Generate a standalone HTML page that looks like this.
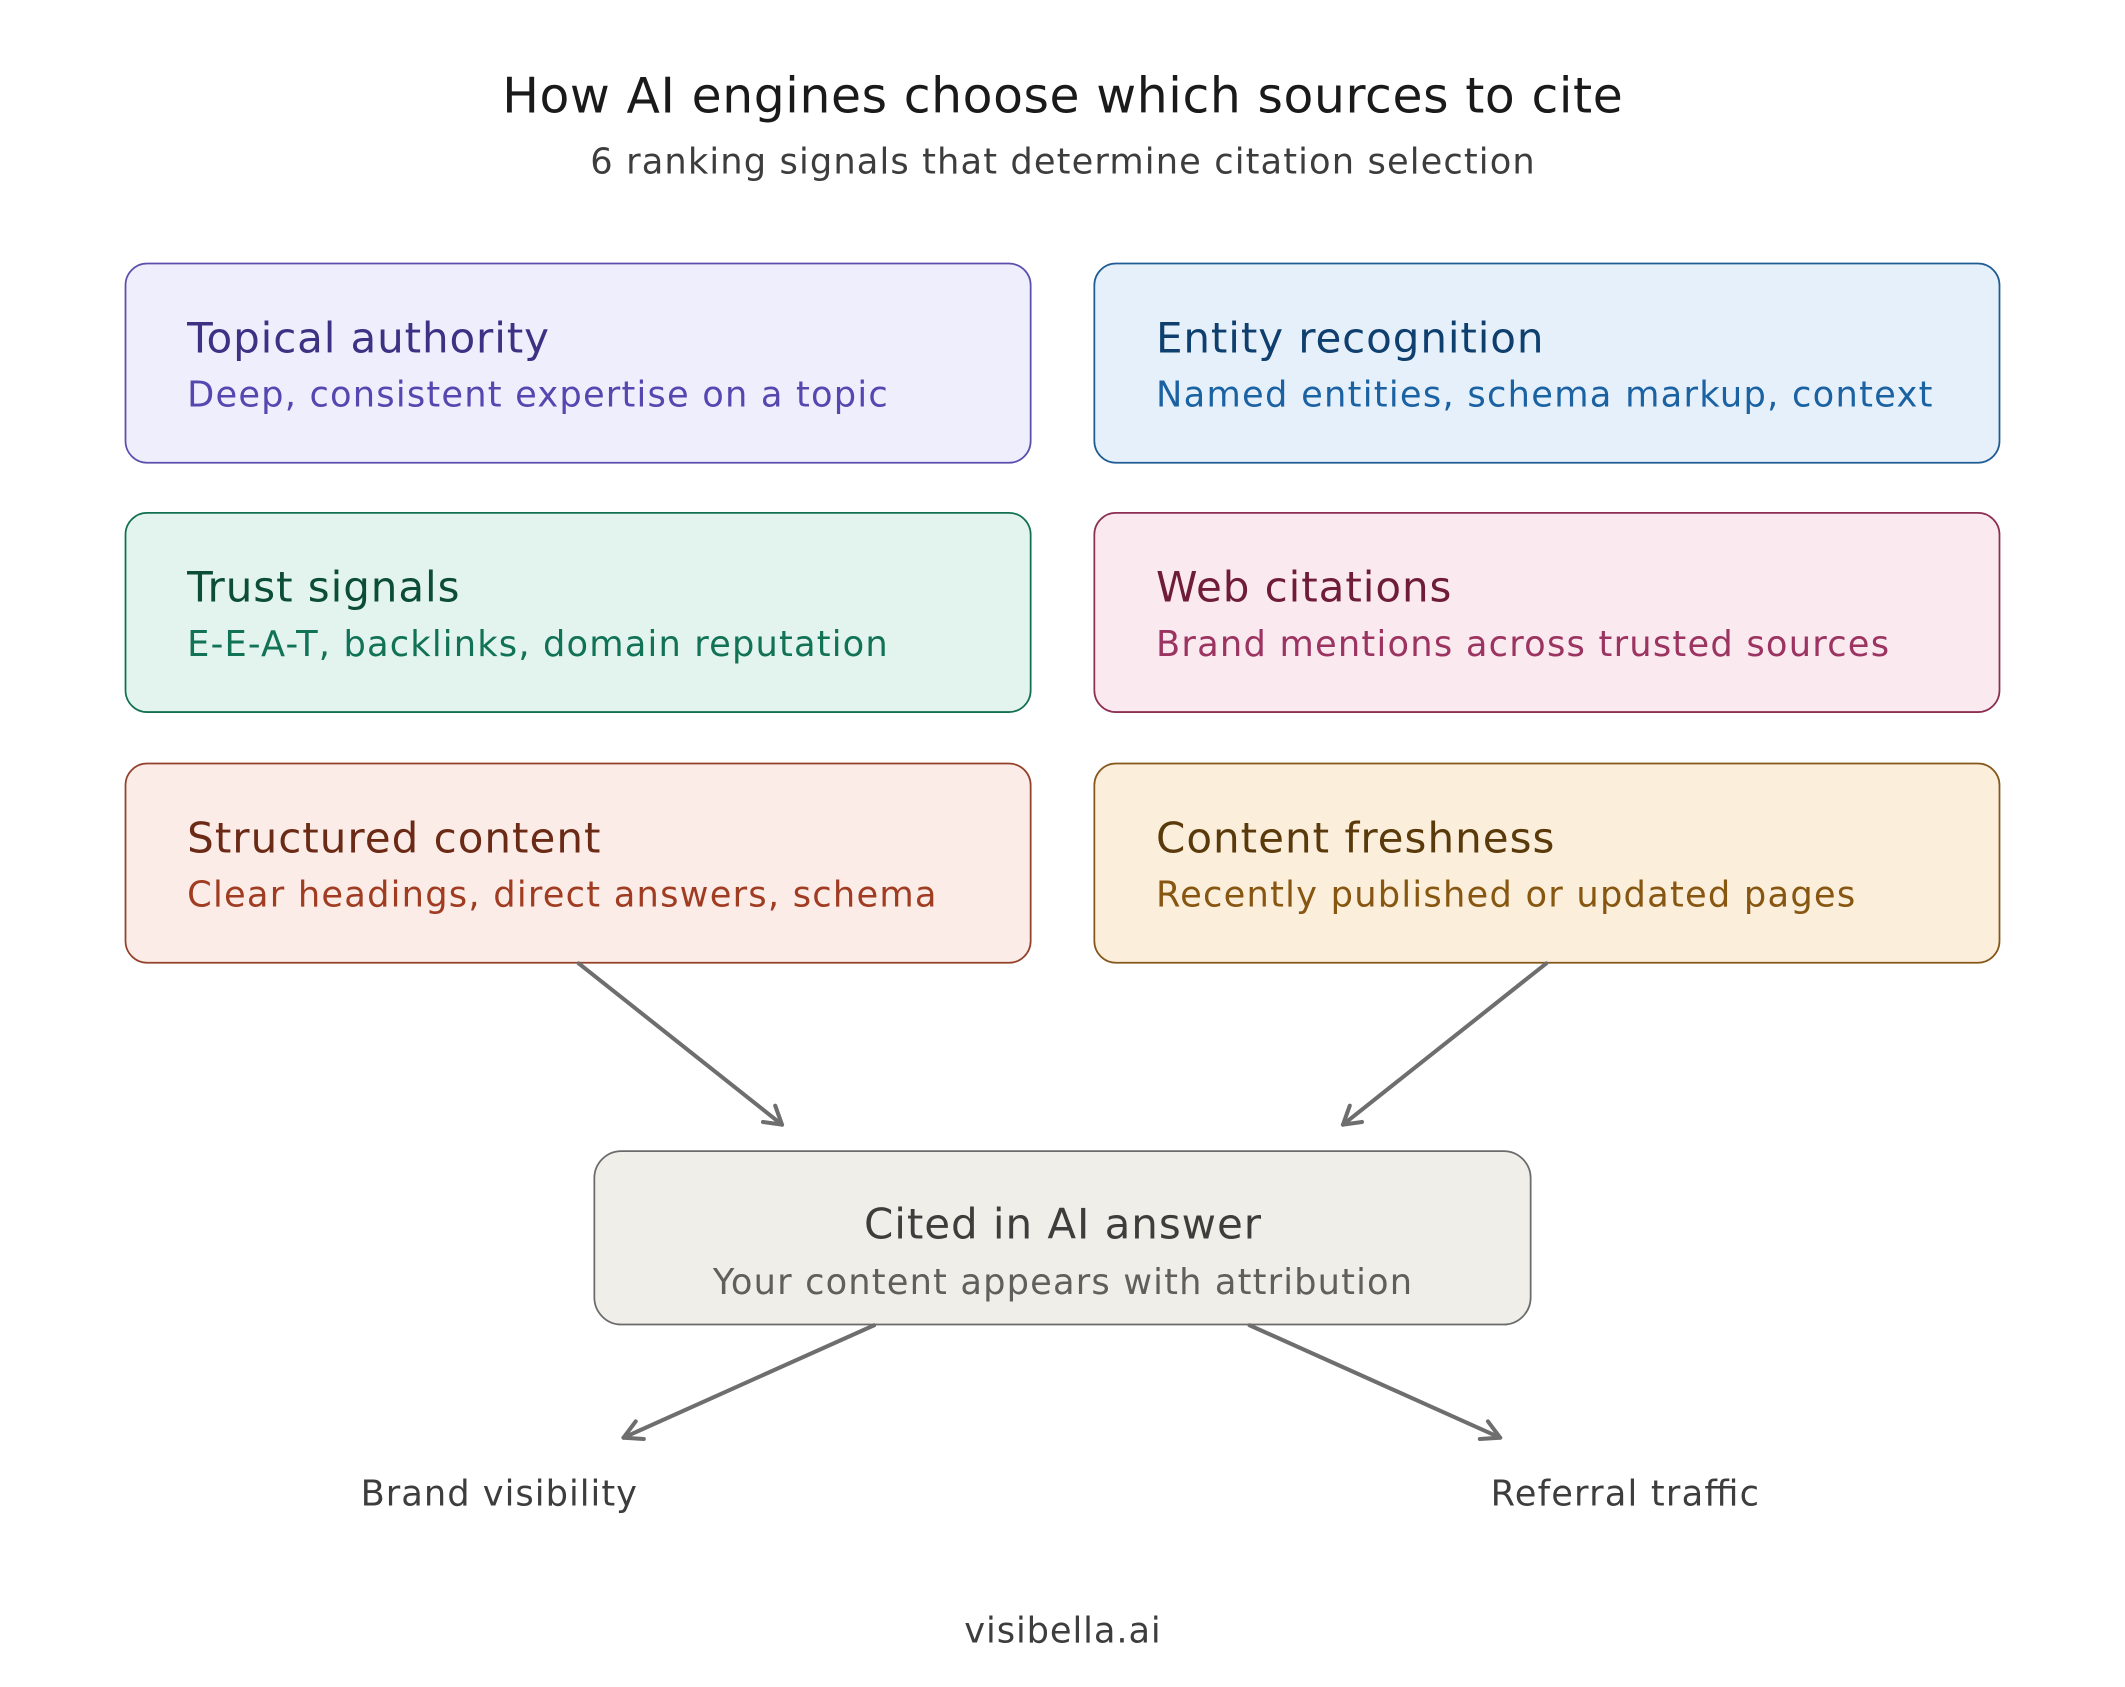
<!DOCTYPE html>
<html><head><meta charset="utf-8"><style>
html,body{margin:0;padding:0;background:#fff;}
svg{display:block;}
text{font-family:"DejaVu Sans","Liberation Sans",sans-serif;}
</style></head><body>
<svg width="2125" height="1687" viewBox="0 0 1568 1245" xmlns="http://www.w3.org/2000/svg">
<rect width="1568" height="1245" fill="#fff"/>
<text x="784" y="83" font-size="36" fill="#1a1a1a" text-anchor="middle" textLength="827">How AI engines choose which sources to cite</text>
<text x="784" y="128" font-size="26" fill="#3d3d3d" text-anchor="middle" textLength="697">6 ranking signals that determine citation selection</text>

<g stroke-width="1.3">
<rect x="92.5" y="194.5" width="668" height="147" rx="16" fill="#efeefd" stroke="#5b4fad"/>
<rect x="807.5" y="194.5" width="668" height="147" rx="16" fill="#e6f0fa" stroke="#1f5c94"/>
<rect x="92.5" y="378.5" width="668" height="147" rx="16" fill="#e2f4ed" stroke="#127052"/>
<rect x="807.5" y="378.5" width="668" height="147" rx="16" fill="#fbe9f0" stroke="#8c2f53"/>
<rect x="92.5" y="563.5" width="668" height="147" rx="16" fill="#fbece7" stroke="#94402a"/>
<rect x="807.5" y="563.5" width="668" height="147" rx="16" fill="#fbeedb" stroke="#85571a"/>
<rect x="438.5" y="849.5" width="691" height="128" rx="20" fill="#f0eee8" stroke="#6b6b6b"/>
</g>

<text x="138" y="260" font-size="31" fill="#3c3183" textLength="267">Topical authority</text>
<text x="138" y="300" font-size="26" fill="#5448b0" textLength="517">Deep, consistent expertise on a topic</text>
<text x="853" y="260" font-size="31" fill="#0e3f6e" textLength="286">Entity recognition</text>
<text x="853" y="300" font-size="26" fill="#1b62a3" textLength="573">Named entities, schema markup, context</text>
<text x="138" y="444" font-size="31" fill="#0c4d37" textLength="201">Trust signals</text>
<text x="138" y="484" font-size="26" fill="#127256" textLength="517">E-E-A-T, backlinks, domain reputation</text>
<text x="853" y="444" font-size="31" fill="#6e1c38" textLength="218">Web citations</text>
<text x="853" y="484" font-size="26" fill="#9b3460" textLength="541">Brand mentions across trusted sources</text>
<text x="138" y="629" font-size="31" fill="#6b2a16" textLength="305">Structured content</text>
<text x="138" y="669" font-size="26" fill="#a03c22" textLength="553">Clear headings, direct answers, schema</text>
<text x="853" y="629" font-size="31" fill="#5a3a0b" textLength="294">Content freshness</text>
<text x="853" y="669" font-size="26" fill="#875610" textLength="516">Recently published or updated pages</text>

<text x="784" y="914" font-size="31" fill="#3d3d3b" text-anchor="middle" textLength="293">Cited in AI answer</text>
<text x="784" y="955" font-size="26" fill="#5f5f5c" text-anchor="middle" textLength="516">Your content appears with attribution</text>

<g stroke="#6e6e6e" stroke-width="3" fill="none" stroke-linecap="round" stroke-linejoin="round">
<line x1="427" y1="711" x2="577" y2="830"/>
<polyline points="563,828 577,830 572,816"/>
<line x1="1141" y1="711" x2="991" y2="830"/>
<polyline points="996,816 991,830 1005,828"/>
<line x1="645" y1="978" x2="460" y2="1061"/>
<polyline points="469,1049 460,1061 475,1062"/>
<line x1="922" y1="978" x2="1107" y2="1061"/>
<polyline points="1092,1062 1107,1061 1098,1049"/>
</g>

<text x="368" y="1111" font-size="26" fill="#3d3d3d" text-anchor="middle" textLength="204">Brand visibility</text>
<text x="1199" y="1111" font-size="26" fill="#3d3d3d" text-anchor="middle" textLength="198">Referral traffic</text>
<text x="784" y="1212" font-size="26" fill="#3d3d3d" text-anchor="middle" textLength="145">visibella.ai</text>
</svg>
</body></html>
